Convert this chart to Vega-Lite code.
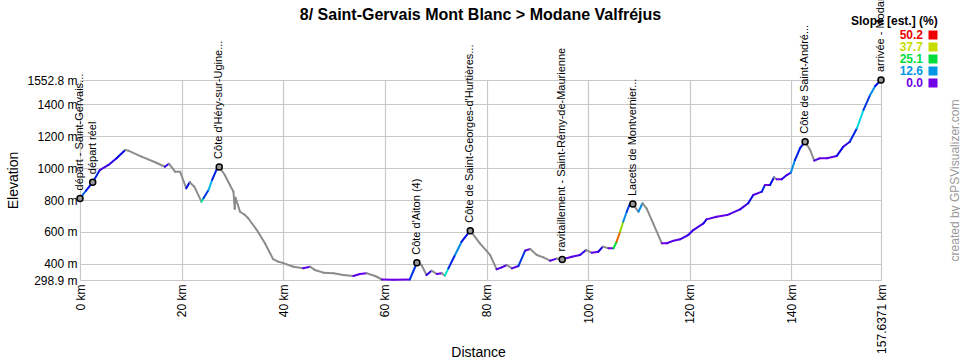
{
  "$schema": "https://vega.github.io/schema/vega-lite/v6.json",
  "width": 801,
  "height": 200,
  "autosize": {"type": "none"},
  "padding": {"left": 80, "top": 80, "right": 79, "bottom": 80},
  "background": "white",
  "title": {"text": "8/ Saint-Gervais Mont Blanc > Modane Valfréjus", "font": "Liberation Sans", "fontSize": 16, "fontWeight": "bold", "anchor": "middle", "color": "#000", "offset": -79},
  "config": {"view": {"stroke": null}, "font": "Liberation Sans"},
  "datasets": {
    "profile": [
      {"d": 0, "e": 810, "g": 10},
      {"d": 1.2, "e": 860, "g": 6},
      {"d": 2.5, "e": 912, "g": 7},
      {"d": 3.9, "e": 988, "g": 2},
      {"d": 5.6, "e": 1020, "g": 3},
      {"d": 7.2, "e": 1062, "g": 5},
      {"d": 8.9, "e": 1114, "g": -1},
      {"d": 9.5, "e": 1110, "g": -1},
      {"d": 12.1, "e": 1072, "g": -1},
      {"d": 14.8, "e": 1037, "g": -1},
      {"d": 16.7, "e": 1009, "g": 3},
      {"d": 17.5, "e": 1028, "g": -1},
      {"d": 18.7, "e": 978, "g": -1},
      {"d": 19.7, "e": 978, "g": -1},
      {"d": 20.9, "e": 874, "g": 6},
      {"d": 21.6, "e": 912, "g": -1},
      {"d": 22.5, "e": 884, "g": -1},
      {"d": 23.9, "e": 790, "g": 20},
      {"d": 24.3, "e": 811, "g": 8},
      {"d": 25.3, "e": 863, "g": 14},
      {"d": 26.0, "e": 926, "g": 7},
      {"d": 26.9, "e": 993, "g": 6},
      {"d": 27.4, "e": 1008, "g": -1},
      {"d": 28.5, "e": 957, "g": -1},
      {"d": 29.5, "e": 895, "g": -1},
      {"d": 30.2, "e": 853, "g": -1},
      {"d": 30.45, "e": 745, "g": -1},
      {"d": 30.6, "e": 815, "g": -1},
      {"d": 31.5, "e": 727, "g": -1},
      {"d": 32.5, "e": 706, "g": -1},
      {"d": 33.1, "e": 686, "g": -1},
      {"d": 34.8, "e": 612, "g": -1},
      {"d": 36.4, "e": 529, "g": -1},
      {"d": 38.0, "e": 430, "g": -1},
      {"d": 39.0, "e": 414, "g": -1},
      {"d": 40.0, "e": 405, "g": -1},
      {"d": 42.0, "e": 382, "g": -1},
      {"d": 43.9, "e": 372, "g": 1},
      {"d": 45.3, "e": 382, "g": -1},
      {"d": 46.2, "e": 362, "g": -1},
      {"d": 47.9, "e": 345, "g": -1},
      {"d": 49.9, "e": 341, "g": -1},
      {"d": 51.8, "e": 330, "g": -1},
      {"d": 53.8, "e": 324, "g": 1},
      {"d": 55.1, "e": 337, "g": 0.5},
      {"d": 56.4, "e": 341, "g": -1},
      {"d": 58.1, "e": 324, "g": -1},
      {"d": 59.4, "e": 302, "g": 0.1},
      {"d": 61.7, "e": 301, "g": 0.1},
      {"d": 64.9, "e": 302, "g": 8},
      {"d": 66.3, "e": 407, "g": -1},
      {"d": 67.2, "e": 393, "g": -1},
      {"d": 68.2, "e": 330, "g": 3},
      {"d": 69.2, "e": 357, "g": -1},
      {"d": 70.2, "e": 337, "g": 0.5},
      {"d": 71.2, "e": 341, "g": -1},
      {"d": 71.8, "e": 326, "g": 18},
      {"d": 72.5, "e": 372, "g": 7},
      {"d": 73.8, "e": 456, "g": 12},
      {"d": 75.1, "e": 539, "g": 6},
      {"d": 76.8, "e": 608, "g": -1},
      {"d": 78.7, "e": 529, "g": -1},
      {"d": 80.7, "e": 456, "g": -1},
      {"d": 82.0, "e": 366, "g": 1.5},
      {"d": 83.0, "e": 378, "g": 1.5},
      {"d": 84.0, "e": 393, "g": -1},
      {"d": 85.0, "e": 372, "g": 1.5},
      {"d": 86.3, "e": 387, "g": 8},
      {"d": 87.6, "e": 483, "g": 1},
      {"d": 88.6, "e": 493, "g": -1},
      {"d": 89.9, "e": 456, "g": -1},
      {"d": 91.2, "e": 441, "g": -1},
      {"d": 92.5, "e": 420, "g": 1},
      {"d": 93.8, "e": 433, "g": -1},
      {"d": 94.9, "e": 428, "g": 1},
      {"d": 96.8, "e": 445, "g": 1},
      {"d": 98.4, "e": 456, "g": 3},
      {"d": 99.6, "e": 487, "g": -1},
      {"d": 100.7, "e": 470, "g": 0.5},
      {"d": 102.0, "e": 476, "g": 4},
      {"d": 102.9, "e": 508, "g": -1},
      {"d": 104.0, "e": 498, "g": 0.1},
      {"d": 105.0, "e": 498, "g": 25},
      {"d": 105.6, "e": 539, "g": 45},
      {"d": 106.3, "e": 602, "g": 35},
      {"d": 106.9, "e": 664, "g": 12},
      {"d": 107.6, "e": 727, "g": 8},
      {"d": 108.2, "e": 775, "g": 0.1},
      {"d": 108.8, "e": 775, "g": -1},
      {"d": 109.9, "e": 727, "g": 12},
      {"d": 110.7, "e": 780, "g": -1},
      {"d": 111.5, "e": 748, "g": -1},
      {"d": 112.8, "e": 654, "g": -1},
      {"d": 114.5, "e": 529, "g": 0.1},
      {"d": 115.5, "e": 529, "g": 1.5},
      {"d": 116.6, "e": 543, "g": 1},
      {"d": 118.1, "e": 554, "g": 2},
      {"d": 119.7, "e": 581, "g": 3},
      {"d": 120.7, "e": 612, "g": 2},
      {"d": 122.7, "e": 654, "g": 4},
      {"d": 123.3, "e": 679, "g": 1},
      {"d": 125.3, "e": 696, "g": 0.5},
      {"d": 127.3, "e": 706, "g": 1.5},
      {"d": 127.9, "e": 713, "g": 1.5},
      {"d": 129.9, "e": 742, "g": 2.5},
      {"d": 131.5, "e": 780, "g": 5},
      {"d": 132.5, "e": 832, "g": 1.5},
      {"d": 134.2, "e": 853, "g": 7},
      {"d": 134.8, "e": 895, "g": 0.1},
      {"d": 135.8, "e": 895, "g": 6},
      {"d": 136.6, "e": 943, "g": -1},
      {"d": 137.1, "e": 930, "g": 0.1},
      {"d": 138.1, "e": 930, "g": 3},
      {"d": 139.1, "e": 957, "g": 2},
      {"d": 139.9, "e": 972, "g": 12},
      {"d": 140.7, "e": 1051, "g": 7},
      {"d": 141.7, "e": 1125, "g": 6},
      {"d": 142.7, "e": 1166, "g": -1},
      {"d": 143.7, "e": 1114, "g": -1},
      {"d": 144.5, "e": 1047, "g": 1.5},
      {"d": 145.6, "e": 1062, "g": 0.1},
      {"d": 147.0, "e": 1062, "g": 1},
      {"d": 148.9, "e": 1076, "g": 5},
      {"d": 150.2, "e": 1134, "g": 3},
      {"d": 151.5, "e": 1166, "g": 7},
      {"d": 152.9, "e": 1250, "g": 16},
      {"d": 154.2, "e": 1365, "g": 8},
      {"d": 155.5, "e": 1459, "g": 12},
      {"d": 156.5, "e": 1515, "g": 6},
      {"d": 157.6371, "e": 1552.8, "g": 0}
    ],
    "waypoints": [
      {"name": "départ - Saint-Gervais...", "d": 0, "e": 810},
      {"name": "départ réel", "d": 2.5, "e": 912},
      {"name": "Côte d'Héry-sur-Ugine...", "d": 27.4, "e": 1008},
      {"name": "Côte d'Aiton (4)", "d": 66.3, "e": 407},
      {"name": "Côte de Saint-Georges-d'Hurtières...", "d": 76.8, "e": 608},
      {"name": "ravitaillement - Saint-Rémy-de-Maurienne", "d": 94.9, "e": 428},
      {"name": "Lacets de Montvernier...", "d": 108.8, "e": 775},
      {"name": "Côte de Saint-André...", "d": 142.7, "e": 1166},
      {"name": "arrivée - Modane Valfréjus", "d": 157.6371, "e": 1552.8}
    ]
  },
  "layer": [
    {
      "data": {"name": "profile"},
      "transform": [
        {"window": [{"op": "lead", "field": "d", "as": "d2"}, {"op": "lead", "field": "e", "as": "e2"}], "sort": [{"field": "d", "order": "ascending"}]},
        {"filter": "datum.d2 != null"}
      ],
      "mark": {"type": "rule", "strokeWidth": 2, "strokeCap": "round"},
      "encoding": {
        "x": {"field": "d", "type": "quantitative", "scale": {"domain": [0, 157.6371], "nice": false, "zero": false},
          "axis": {"values": [0, 20, 40, 60, 80, 100, 120, 140, 157.6371], "labelExpr": "datum.value + ' km'", "labelAngle": 270, "labelAlign": "right", "labelBaseline": "middle", "labelPadding": 4, "ticks": false, "domain": false, "grid": true, "gridColor": "#c8c8c8", "gridWidth": 1.2, "title": "Distance", "titleFontSize": 14, "titleFontWeight": "normal", "titleFont": "Liberation Sans", "titleColor": "#000", "titleX": 398, "titleY": 72, "titleBaseline": "middle", "titleAlign": "center", "labelFontSize": 12, "labelFont": "Liberation Sans", "labelColor": "#000", "labelFlush": false, "labelOverlap": false}},
        "x2": {"field": "d2"},
        "y": {"field": "e", "type": "quantitative", "scale": {"domain": [298.9, 1552.8], "nice": false, "zero": false},
          "axis": {"values": [298.9, 400, 600, 800, 1000, 1200, 1400, 1552.8], "labelExpr": "datum.value + ' m'", "ticks": false, "domain": false, "labelPadding": 3, "grid": true, "gridColor": "#c8c8c8", "gridWidth": 1.2, "title": "Elevation", "titleFontSize": 14, "titleFontWeight": "normal", "titleFont": "Liberation Sans", "titleColor": "#000", "titleX": -67, "titleY": 100, "titleAngle": 270, "titleBaseline": "middle", "titleAlign": "center", "labelFontSize": 12, "labelFont": "Liberation Sans", "labelColor": "#000", "labelFlush": false, "labelOverlap": false}},
        "y2": {"field": "e2"},
        "color": {
          "condition": {"test": "datum.g < 0", "value": "#8c8c8c"},
          "field": "g", "type": "quantitative",
          "scale": {"type": "linear", "domain": [0, 12.6, 25.1, 37.7, 50.2], "range": ["#7000e6", "#0096e6", "#00dc3c", "#c8dc00", "#ee0000"], "interpolate": "hsl", "clamp": true},
          "legend": {"type": "symbol", "values": [50.2, 37.7, 25.1, 12.6, 0], "format": ".1f", "title": "Slope [est.] (%)", "orient": "none", "legendX": 771, "legendY": -64, "titleFontSize": 12, "titleFontWeight": "bold", "titleFont": "Liberation Sans", "titleColor": "#000", "titlePadding": 1, "labelFontSize": 12, "labelFontWeight": "bold", "labelFont": "Liberation Sans", "symbolType": "square", "symbolSize": 81, "symbolStrokeWidth": 0, "symbolOffset": 76, "labelAlign": "right", "labelOffset": -16, "rowPadding": 0,
            "encode": {"labels": {"update": {"fill": {"scale": "color", "field": "value"}}}, "symbols": {"update": {"fill": {"scale": "color", "field": "value"}, "opacity": {"value": 1}, "fillOpacity": {"value": 1}}}}}
        }
      }
    },
    {
      "data": {"name": "waypoints"},
      "mark": {"type": "point", "shape": "circle", "filled": true, "fill": "#999999", "stroke": "#000000", "strokeWidth": 1.5, "size": 36, "opacity": 1},
      "encoding": {
        "x": {"field": "d", "type": "quantitative", "scale": {"domain": [0, 157.6371], "nice": false, "zero": false}},
        "y": {"field": "e", "type": "quantitative", "scale": {"domain": [298.9, 1552.8], "nice": false, "zero": false},
          "axis": {"orient": "right", "title": "created by GPSVisualizer.com", "labels": false, "ticks": false, "domain": false, "grid": false, "titleColor": "#999999", "titleFontSize": 12, "titleFontWeight": "normal", "titleFont": "Liberation Sans", "titleAngle": 270, "titleX": 73, "titleY": 100, "titleBaseline": "middle", "titleAlign": "center"}}
      }
    },
    {
      "data": {"name": "waypoints"},
      "mark": {"type": "text", "angle": 270, "align": "left", "baseline": "middle", "dx": 8, "fontSize": 11, "font": "Liberation Sans", "color": "#000"},
      "encoding": {
        "x": {"field": "d", "type": "quantitative", "scale": {"domain": [0, 157.6371], "nice": false, "zero": false}},
        "y": {"field": "e", "type": "quantitative", "scale": {"domain": [298.9, 1552.8], "nice": false, "zero": false}, "axis": null},
        "text": {"field": "name"}
      }
    }
  ],
  "resolve": {"axis": {"y": "independent"}}
}
